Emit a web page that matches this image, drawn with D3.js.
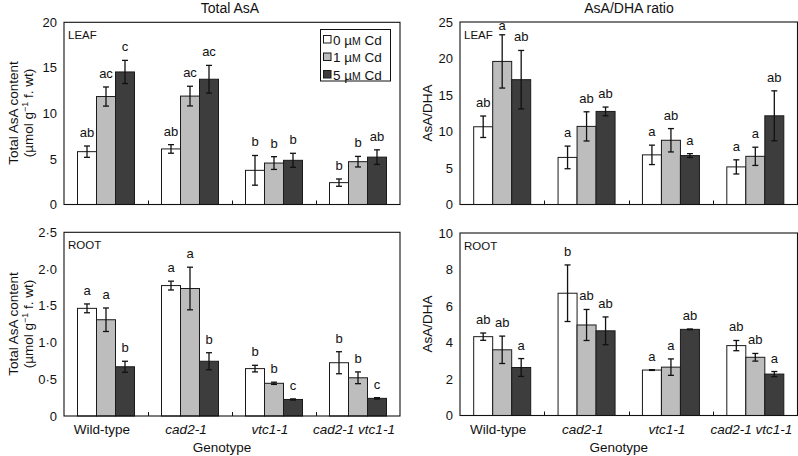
<!DOCTYPE html>
<html><head><meta charset="utf-8">
<script src="https://cdn.jsdelivr.net/npm/d3@7/dist/d3.min.js"></script>
<style>
html,body{margin:0;padding:0;background:#fff;}
svg text{font-family:"Liberation Sans",Arial,Helvetica,sans-serif;fill:#111;}
</style></head>
<body><svg id="chart" width="798" height="456"></svg>
<script>
// ---------- data ----------
const genotypes = ["Wild-type", "cad2-1", "vtc1-1", "cad2-1 vtc1-1"];
const italicGenotype = [false, true, true, true];
const treatments = ["0", "1", "5"];

// Total AsA, LEAF (µmol g-1 f. wt)
const leafAsA      = [[5.8, 11.85, 14.55], [6.1, 11.9, 13.75], [3.75, 4.55, 4.85], [2.4, 4.7, 5.2]];
const leafAsAErr   = [[0.62, 1.05, 1.27], [0.47, 1.08, 1.52], [1.63, 0.70, 0.77], [0.40, 0.58, 0.80]];
const leafAsALet   = [["ab", "ac", "c"], ["ab", "ac", "ac"], ["b", "b", "b"], ["b", "b", "ab"]];

// AsA/DHA ratio, LEAF
const leafRatio    = [[10.65, 19.6, 17.1], [6.45, 10.7, 12.75], [6.8, 8.8, 6.7], [5.15, 6.6, 12.15]];
const leafRatioErr = [[1.47, 3.65, 4.0], [1.55, 2.0, 0.6], [1.33, 1.6, 0.27], [0.97, 1.25, 3.42]];
const leafRatioLet = [["ab", "a", "ab"], ["a", "ab", "ab"], ["a", "ab", "a"], ["a", "a", "ab"]];

// Total AsA, ROOT
const rootAsA      = [[1.465, 1.31, 0.67], [1.775, 1.735, 0.745], [0.645, 0.445, 0.225], [0.725, 0.52, 0.24]];
const rootAsAErr   = [[0.06, 0.16, 0.075], [0.06, 0.29, 0.116], [0.045, 0.015, 0.008], [0.15, 0.08, 0.01]];
const rootAsALet   = [["a", "a", "b"], ["a", "a", "b"], ["b", "b", "c"], ["b", "b", "c"]];

// AsA/DHA ratio, ROOT
const rootRatio    = [[4.32, 3.6, 2.63], [6.7, 4.96, 4.64], [2.49, 2.65, 4.72], [3.83, 3.19, 2.27]];
const rootRatioErr = [[0.2, 0.75, 0.49], [1.55, 0.85, 0.76], [0.02, 0.45, 0.02], [0.28, 0.21, 0.14]];
const rootRatioLet = [["ab", "ab", "a"], ["b", "ab", "ab"], ["a", "a", "ab"], ["ab", "ab", "a"]];

const leafAsATicks   = [0, 5, 10, 15, 20];
const leafRatioTicks = [0, 5, 10, 15, 20, 25];
const rootAsATicks   = [0, 0.5, 1.0, 1.5, 2.0, 2.5];
const rootRatioTicks = [0, 2, 4, 6, 8, 10];

// ---------- drawing ----------
const svg = d3.select("#chart");
const fills = ["#ffffff", "#bdbdbd", "#3d3d3d"];

function panel(cfg) {
  const g = svg.append("g");
  const x = d3.scaleBand().domain(genotypes).range([cfg.x0, cfg.x1]).padding(0);
  const y = d3.scaleLinear().domain(cfg.domain).range([cfg.y1, cfg.y0]);
  const bw = 19;

  // y tick labels
  g.selectAll("text.ytick").data(cfg.ticks).join("text")
    .attr("class", "ytick")
    .attr("x", cfg.x0 - 7).attr("y", d => y(d)).attr("dy", "0.35em")
    .attr("text-anchor", "end").attr("font-size", 13)
    .text(cfg.fmt);

  // group separator ticks on x axis
  g.selectAll("line.xtick").data(genotypes.slice(1)).join("line")
    .attr("x1", d => Math.round(x(d)) + 0.5).attr("x2", d => Math.round(x(d)) + 0.5)
    .attr("y1", cfg.y1).attr("y2", cfg.y1 - 4)
    .attr("stroke", "#111").attr("stroke-width", 1);

  // bars
  genotypes.forEach((gen, gi) => {
    const cx = x(gen) + x.bandwidth() / 2;
    treatments.forEach((t, ti) => {
      const v = cfg.values[gi][ti], e = cfg.err[gi][ti];
      const bx = cx - 1.5 * bw + ti * bw;
      g.append("rect")
        .attr("x", bx).attr("y", y(v))
        .attr("width", bw).attr("height", y(0) - y(v))
        .attr("fill", fills[ti]).attr("stroke", "#1a1a1a").attr("stroke-width", 1);
      const bc = bx + bw / 2;
      const yt = y(v + e), yb = y(Math.max(0, v - e));
      g.append("line").attr("x1", bc).attr("x2", bc).attr("y1", yt).attr("y2", yb)
        .attr("stroke", "#111").attr("stroke-width", 1.3);
      [yt, yb].forEach(yy => g.append("line")
        .attr("x1", bc - 3).attr("x2", bc + 3).attr("y1", yy).attr("y2", yy)
        .attr("stroke", "#111").attr("stroke-width", 1.3));
      const ly = Math.max(yt - 9, cfg.y0 + 8);
      g.append("text").attr("x", bc).attr("y", ly)
        .attr("text-anchor", "middle").attr("font-size", 13)
        .text(cfg.letters[gi][ti]);
    });
  });

  // frame
  g.append("rect").attr("x", cfg.x0).attr("y", cfg.y0)
    .attr("width", cfg.x1 - cfg.x0).attr("height", cfg.y1 - cfg.y0)
    .attr("fill", "none").attr("stroke", "#111").attr("stroke-width", 1.1);

  // tissue label
  g.append("text").attr("x", cfg.x0 + 4).attr("y", cfg.y0 + 16.5)
    .attr("font-size", 11.5).text(cfg.tissue);

  // category labels
  if (cfg.showCats) {
    g.selectAll("text.cat").data(genotypes).join("text")
      .attr("class", "cat")
      .attr("x", d => x(d) + x.bandwidth() / 2 - 4).attr("y", 434)
      .attr("text-anchor", "middle").attr("font-size", 13.5)
      .attr("font-style", (d, i) => italicGenotype[i] ? "italic" : "normal")
      .text(d => d);
    g.append("text").attr("x", (cfg.x0 + cfg.x1) / 2 - 10).attr("y", 452)
      .attr("text-anchor", "middle").attr("font-size", 13.5).text("Genotype");
  }
  return {x, y};
}

const fmtInt = d => String(d);
const fmtRoot = d => d === 0 ? "0" : d3.format(".1f")(d).replace(".", "\u00b7");

panel({x0: 64, x1: 400, y0: 22.3, y1: 204.5, domain: [0, 20], ticks: leafAsATicks, fmt: fmtInt,
  values: leafAsA, err: leafAsAErr, letters: leafAsALet, tissue: "LEAF", showCats: false});
panel({x0: 460, x1: 797.5, y0: 22, y1: 204.5, domain: [0, 25], ticks: leafRatioTicks, fmt: fmtInt,
  values: leafRatio, err: leafRatioErr, letters: leafRatioLet, tissue: "LEAF", showCats: false});
panel({x0: 64, x1: 400, y0: 232.3, y1: 416, domain: [0, 2.5], ticks: rootAsATicks, fmt: fmtRoot,
  values: rootAsA, err: rootAsAErr, letters: rootAsALet, tissue: "ROOT", showCats: true});
panel({x0: 460, x1: 797.5, y0: 233, y1: 415.5, domain: [0, 10], ticks: rootRatioTicks, fmt: fmtInt,
  values: rootRatio, err: rootRatioErr, letters: rootRatioLet, tissue: "ROOT", showCats: true});

// titles
svg.append("text").attr("x", 230).attr("y", 13).attr("text-anchor", "middle").attr("font-size", 14).text("Total AsA");
svg.append("text").attr("x", 629).attr("y", 13).attr("text-anchor", "middle").attr("font-size", 14).text("AsA/DHA ratio");

// y axis titles
function yTitleAsA(cy) {
  const t = svg.append("text").attr("transform", `translate(18,${cy}) rotate(-90)`)
    .attr("text-anchor", "middle").attr("font-size", 13.5);
  t.append("tspan").attr("x", 0).attr("dy", 0).text("Total AsA content");
  const t2 = svg.append("text").attr("transform", `translate(33,${cy}) rotate(-90)`)
    .attr("text-anchor", "middle").attr("font-size", 13.5);
  t2.append("tspan").text("(\u00b5mol g");
  t2.append("tspan").attr("dy", -5).attr("font-size", 9).text("\u22121");
  t2.append("tspan").attr("dy", 5).text(" f. wt)");
}
yTitleAsA(113);
yTitleAsA(324);
svg.append("text").attr("transform", "translate(432,113) rotate(-90)").attr("text-anchor", "middle").attr("font-size", 13.5).text("AsA/DHA");
svg.append("text").attr("transform", "translate(432,324) rotate(-90)").attr("text-anchor", "middle").attr("font-size", 13.5).text("AsA/DHA");

// legend
const lg = svg.append("g");
lg.append("rect").attr("x", 320.5).attr("y", 29.5).attr("width", 70).attr("height", 51.5)
  .attr("fill", "#fff").attr("stroke", "#111").attr("stroke-width", 1);
treatments.forEach((t, i) => {
  const cy = 39.5 + i * 17.5;
  lg.append("rect").attr("x", 323.5).attr("y", cy - 4).attr("width", 7.5).attr("height", 7.5)
    .attr("fill", fills[i]).attr("stroke", "#1a1a1a").attr("stroke-width", 1);
  const tx = lg.append("text").attr("x", 333).attr("y", cy).attr("dy", "0.38em").attr("font-size", 13.5);
  tx.append("tspan").text(t + " \u00b5");
  tx.append("tspan").attr("font-size", 10.5).text("M");
  tx.append("tspan").text(" Cd");
});
</script></body></html>
